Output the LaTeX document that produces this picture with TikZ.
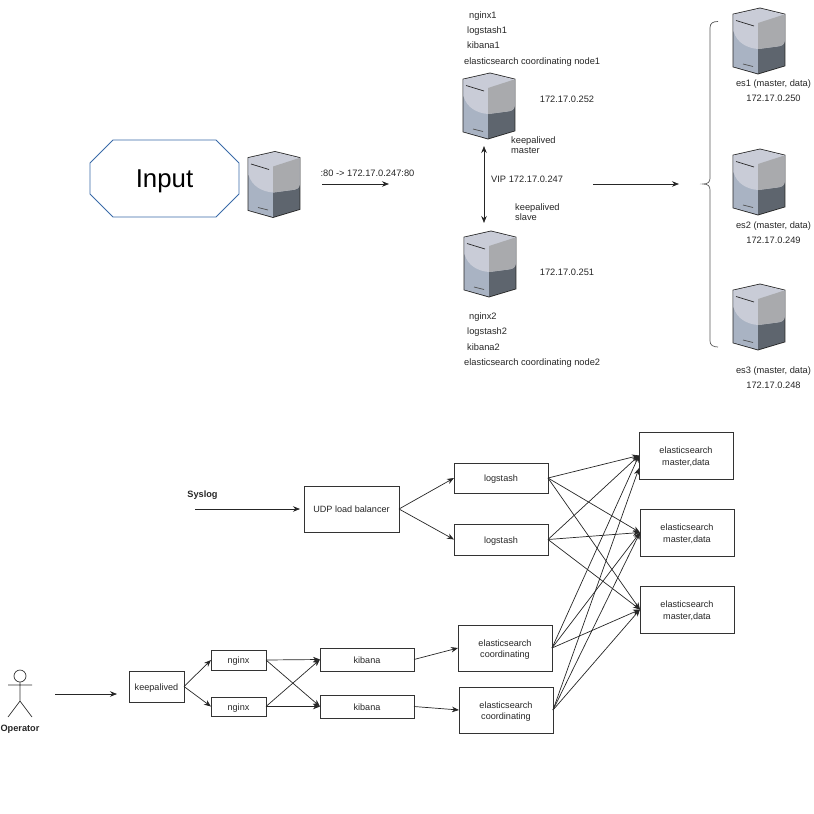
\documentclass[tikz,border=0pt]{standalone}
\usepackage{fontspec}
\setmainfont{Liberation Sans}
\usetikzlibrary{arrows.meta}
\tikzset{
 lbl/.style={font=\fontsize{9.3}{10}\selectfont,text=black!85,inner sep=0pt,align=left,execute at begin node={\rule[-2pt]{0pt}{10.5pt}}},
 boxlbl/.style={draw=black!80,line width=0.8pt,rectangle,inner sep=0pt,outer sep=0pt,font=\fontsize{9.1}{11.5}\selectfont,text=black!85,align=center,execute at begin node={\rule[-2pt]{0pt}{11pt}}},
 twolbl/.style={boxlbl,minimum width=94pt,execute at begin node={\rule[-2pt]{0pt}{23pt}}},
 arr/.style={->,>={Stealth[length=7pt,width=5.5pt]},line width=0.7pt,black!85},
 server/.pic={
  \fill[black!85] (-26.4,-27.2) -- (1,-33.4) -- (26.4,-27.2) -- (26.4,25.2) -- (-1,33.4) -- (-26.4,26.2) -- cycle;
  \fill[serverLow] (-25.6,-26.6) -- (-1,-18) -- (-1,32.5) -- (-25.6,25.6) -- cycle;
  \fill[serverDark] (-1,-18) -- (25.6,-26.6) -- (25.6,24.6) -- (-1,32.5) -- cycle;
  \fill[serverTop] (-25.6,-26.6) -- (1,-32.6) -- (25.6,-26.6) -- (25.6,0) .. controls (25.6,4) and (22,5) .. (18,5.5) -- (-1,8) .. controls (-12,7) and (-22,2) .. (-25.6,-10) -- cycle;
  \fill[serverRight] (-1,-18) -- (25.6,-26.6) -- (25.6,0) .. controls (25.6,4) and (22,5) .. (18,5.5) -- (-1,8) -- cycle;
  \draw[black!85,line width=0.7pt] (-23,-20.5) -- (-5,-15);
  \draw[black!70,line width=0.7pt] (-16,23) -- (-6,25.5);
 },
}
\definecolor{serverTop}{HTML}{C9CCD7}
\definecolor{serverRight}{HTML}{A9AAAD}
\definecolor{serverLow}{HTML}{A9B3C3}
\definecolor{serverDark}{HTML}{5E656E}
\definecolor{inputBlue}{HTML}{3A6AA8}
\begin{document}
\begin{tikzpicture}[x=1pt,y=-1pt]
 \useasboundingbox (0,0) rectangle (814,814);

 % top part
 \node[minimum width=149pt,minimum height=77pt,inner sep=0pt,outer sep=0pt,font=\fontsize{25.8}{28}\selectfont,text height=18.5pt,text depth=0.5pt] (input) at (164.5,178.5) {Input};
 \draw[inputBlue,line width=0.8pt] ([xshift=23pt]input.north west) -- ([xshift=-23pt]input.north east) -- ([yshift=-23pt]input.north east) -- ([yshift=23pt]input.south east) -- ([xshift=-23pt]input.south east) -- ([xshift=23pt]input.south west) -- ([yshift=23pt]input.south west) -- ([yshift=-23pt]input.north west) -- cycle;
 \pic at (274,184.5) {server};
 \pic at (489,106) {server};
 \pic at (490,264) {server};
 \pic at (759,41) {server};
 \pic at (759,182) {server};
 \pic at (759,317) {server};

 \coordinate (fwdA) at (322,184);
 \coordinate (fwdB) at (389,184);
 \draw[arr] (fwdA) -- (fwdB);
 \node[lbl] (fwd) at (367.5,173) {:80 -> 172.17.0.247:80};

 \node[lbl,anchor=west] (nginxa) at (469,15) {nginx1};
 \node[lbl,anchor=west] (logstasha) at (467,30) {logstash1};
 \node[lbl,anchor=west] (kibanaa) at (467,45) {kibana1};
 \node[lbl,anchor=west] (esca) at (464,61) {elasticsearch coordinating node1};
 \node[lbl] (ipa) at (567,99) {172.17.0.252};
 \node[lbl,anchor=west] (masterlbl) at (511,146.5) {keepalived\\master};

 \coordinate (vipA) at (484,146);
 \coordinate (vipB) at (484,223);
 \draw[arr,<->] (vipA) -- (vipB);
 \node[lbl,anchor=west] (vip) at (491,179) {VIP 172.17.0.247};
 \coordinate (toesA) at (593,184);
 \coordinate (toesB) at (679,184);
 \draw[arr] (toesA) -- (toesB);

 \node[lbl,anchor=west] (slavelbl) at (515,213.5) {keepalived\\slave};
 \node[lbl] (ipb) at (567,272) {172.17.0.251};
 \node[lbl,anchor=west] (nginxb) at (469,316) {nginx2};
 \node[lbl,anchor=west] (logstashb) at (467,331.5) {logstash2};
 \node[lbl,anchor=west] (kibanab) at (467,347) {kibana2};
 \node[lbl,anchor=west] (escb) at (464,362.5) {elasticsearch coordinating node2};

 \draw[black!65,line width=0.7pt] (718,21.5) .. controls (713,21.5) and (710,23) .. (710,28) -- (710,178) .. controls (710,182) and (708,184) .. (703,184) .. controls (708,184) and (710,186) .. (710,190) -- (710,341) .. controls (710,345) and (713,347) .. (718,347);

 \node[lbl,align=center] (esa) at (773.5,91.5) {es1 (master, data)\\[5pt]172.17.0.250};
 \node[lbl,align=center] (esb) at (773.5,233.5) {es2 (master, data)\\[5pt]172.17.0.249};
 \node[lbl,align=center] (esc) at (773.5,378.5) {es3 (master, data)\\[5pt]172.17.0.248};

 % bottom part
 \node[lbl,font=\fontsize{9.2}{10}\selectfont\bfseries] (syslog) at (202.5,494) {Syslog};
 \coordinate (syslogA) at (195,509);
 \node[boxlbl,minimum width=95pt,minimum height=46pt] (udp) at (351.5,509) {UDP load balancer};
 \coordinate (syslogB) at (300,509);
 \draw[arr] (syslogA) -- (syslogB);

 \node[boxlbl,minimum width=94pt,minimum height=30pt] (logstash1) at (501,478) {logstash};
 \node[boxlbl,minimum width=94pt,minimum height=31pt] (logstash2) at (501,539.5) {logstash};
 \node[twolbl,minimum height=47pt] (es1) at (686,455.5) {elasticsearch\\master,data};
 \node[twolbl,minimum height=47pt] (es2) at (687,532.5) {elasticsearch\\master,data};
 \node[twolbl,minimum height=47pt] (es3) at (687,609.5) {elasticsearch\\master,data};
 \node[twolbl,minimum height=46pt] (coord1) at (505,648) {elasticsearch\\coordinating};
 \node[twolbl,minimum height=46pt] (coord2) at (506,710) {elasticsearch\\coordinating};
 \node[boxlbl,minimum width=94pt,minimum height=23pt] (kibana1) at (367,659.5) {kibana};
 \node[boxlbl,minimum width=94pt,minimum height=23pt] (kibana2) at (367,706.5) {kibana};
 \node[boxlbl,minimum width=55pt,minimum height=20pt] (nginx1) at (238.5,660) {nginx};
 \node[boxlbl,minimum width=55pt,minimum height=19pt] (nginx2) at (238.5,706.5) {nginx};
 \node[boxlbl,minimum width=55pt,minimum height=31pt] (keepalived) at (156.5,686.5) {keepalived};

 \draw[arr] (udp.east) -- (logstash1.west);
 \draw[arr] (udp.east) -- (logstash2.west);
 \draw[arr] (logstash1.east) -- (es1.west);
 \draw[arr] (logstash1.east) -- (es2.west);
 \draw[arr] (logstash1.east) -- (es3.west);
 \draw[arr] (logstash2.east) -- (es1.west);
 \draw[arr] (logstash2.east) -- (es2.west);
 \draw[arr] (logstash2.east) -- (es3.west);
 \draw[arr] (coord1.east) -- (es1.west);
 \draw[arr] (coord1.east) -- (es2.west);
 \draw[arr] (coord1.east) -- (es3.west);
 \draw[arr] (coord2.east) -- (es1.195);
 \draw[arr] (coord2.east) -- (es2.west);
 \draw[arr] (coord2.east) -- (es3.west);
 \draw[arr] (kibana1.east) -- (coord1.west);
 \draw[arr] (kibana2.east) -- (coord2.west);
 \draw[arr] (nginx1.east) -- (kibana1.west);
 \draw[arr] (nginx1.east) -- (kibana2.west);
 \draw[arr] (nginx2.east) -- (kibana1.west);
 \draw[arr] (nginx2.east) -- (kibana2.west);
 \draw[arr] (keepalived.east) -- (nginx1.west);
 \draw[arr] (keepalived.east) -- (nginx2.west);

 % operator
 \draw[black!80,line width=0.7pt] (20,676) circle (6);
 \draw[black!80,line width=0.7pt] (20,682) -- (20,701) (8,685) -- (32,685) (8,717) -- (20,701) -- (32,717);
 \node[lbl,font=\fontsize{9.2}{10}\selectfont\bfseries] (operator) at (20,728) {Operator};
 \coordinate (operatorA) at (55,694);
 \coordinate (operatorB) at (117,694);
 \draw[arr] (operatorA) -- (operatorB);
\end{tikzpicture}
\end{document}
